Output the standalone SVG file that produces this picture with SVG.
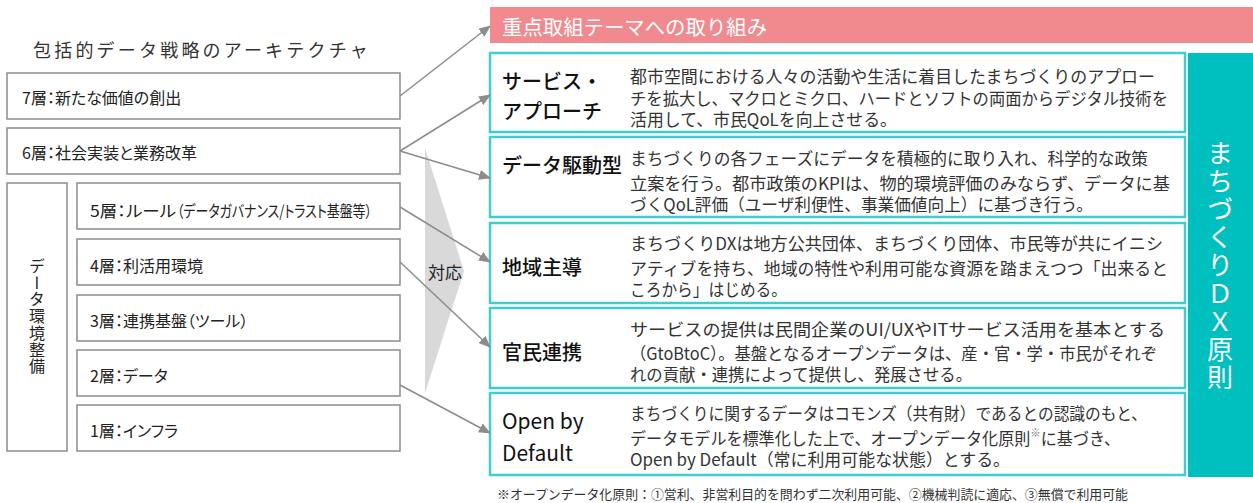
<svg xmlns="http://www.w3.org/2000/svg" width="1253" height="503" viewBox="0 0 1253 503">
<style>
text{font-family:"Noto Sans CJK JP","Noto Sans",sans-serif;dominant-baseline:central;}
.lb{fill:#fff;stroke:#8c8c8c;stroke-width:1.5}
.lt{font-size:16px;fill:#222;font-feature-settings:"palt"}
.tb{fill:#fff;stroke:#3dcfcf;stroke-width:2.5}
.tt{font-size:20px;fill:#111;font-weight:500}
.dt{font-size:17px;fill:#333}
.cn{stroke:#8c8c8c;stroke-width:1.5;fill:none;marker-end:url(#ah)}
</style>
<defs>
<marker id="ah" markerUnits="userSpaceOnUse" markerWidth="12" markerHeight="10" refX="11" refY="5" orient="auto">
<path d="M0,0 L12,5 L0,10 Z" fill="#8c8c8c"/>
</marker>
</defs>
<rect width="1253" height="503" fill="#fff"/>

<g id="title-left">
<text x="33" y="49" style="font-size:18px;letter-spacing:3.2px;fill:#333">包括的データ戦略のアーキテクチャ</text>
</g>

<g id="layer7"><rect class="lb" x="7" y="73" width="393" height="46"/><text class="lt" x="22" y="97">7層：新たな価値の創出</text></g>
<g id="layer6"><rect class="lb" x="7" y="128" width="393" height="46"/><text class="lt" x="22" y="152">6層：社会実装と業務改革</text></g>
<g id="data-env"><rect class="lb" x="7" y="183" width="60" height="268"/><text x="37" y="258" style="font-size:16px;fill:#222;writing-mode:vertical-rl;letter-spacing:0.7px">データ環境整備</text></g>
<g id="layer5"><rect class="lb" x="77" y="183" width="323" height="46"/><text class="lt" x="90" y="210" textLength="86" lengthAdjust="spacingAndGlyphs">5層：ルール</text><text class="lt" x="177" y="210" textLength="195" lengthAdjust="spacingAndGlyphs">（データガバナンス/トラスト基盤等）</text></g>
<g id="layer4"><rect class="lb" x="77" y="239" width="323" height="46"/><text class="lt" x="90" y="265">4層：利活用環境</text></g>
<g id="layer3"><rect class="lb" x="77" y="295" width="323" height="46"/><text class="lt" x="90" y="320">3層：連携基盤（ツール）</text></g>
<g id="layer2"><rect class="lb" x="77" y="350" width="323" height="46"/><text class="lt" x="90" y="375">2層：データ</text></g>
<g id="layer1"><rect class="lb" x="77" y="405" width="323" height="46"/><text class="lt" x="90" y="430">1層：インフラ</text></g>

<g id="correspond">
<polygon points="425,148 425,393 464,271" fill="#d9d9d9"/>
<text x="428" y="271" style="font-size:17px;fill:#222">対応</text>
</g>

<g id="header">
<rect x="490" y="7" width="763" height="36" fill="#f08a8e"/>
<text x="502" y="26" style="font-size:20.4px;fill:#fff">重点取組テーマへの取り組み</text>
</g>

<g id="p1"><rect class="tb" x="490" y="53" width="695" height="79"/>
<text class="tt" x="502" y="80">サービス・</text><text class="tt" x="502" y="110">アプローチ</text>
<text class="dt" x="630" y="75" textLength="525" lengthAdjust="spacingAndGlyphs">都市空間における人々の活動や生活に着目したまちづくりのアプロー</text>
<text class="dt" x="630" y="97" textLength="538" lengthAdjust="spacingAndGlyphs">チを拡大し、マクロとミクロ、ハードとソフトの両面からデジタル技術を</text>
<text class="dt" x="630" y="118" textLength="267" lengthAdjust="spacingAndGlyphs">活用して、市民QoLを向上させる。</text></g>

<g id="p2"><rect class="tb" x="490" y="137" width="695" height="80"/>
<text class="tt" x="502" y="164">データ駆動型</text>
<text class="dt" x="630" y="157" textLength="518" lengthAdjust="spacingAndGlyphs">まちづくりの各フェーズにデータを積極的に取り入れ、科学的な政策</text>
<text class="dt" x="630" y="182" textLength="540" lengthAdjust="spacingAndGlyphs">立案を行う。都市政策のKPIは、物的環境評価のみならず、データに基</text>
<text class="dt" x="630" y="203" textLength="463" lengthAdjust="spacingAndGlyphs">づくQoL評価（ユーザ利便性、事業価値向上）に基づき行う。</text></g>

<g id="p3"><rect class="tb" x="490" y="223" width="695" height="80"/>
<text class="tt" x="502" y="266">地域主導</text>
<text class="dt" x="630" y="242" textLength="533" lengthAdjust="spacingAndGlyphs">まちづくりDXは地方公共団体、まちづくり団体、市民等が共にイニシ</text>
<text class="dt" x="630" y="267" textLength="538" lengthAdjust="spacingAndGlyphs">アティブを持ち、地域の特性や利用可能な資源を踏まえつつ「出来ると</text>
<text class="dt" x="630" y="288" textLength="157" lengthAdjust="spacingAndGlyphs">ころから」はじめる。</text></g>

<g id="p4"><rect class="tb" x="490" y="308" width="695" height="80"/>
<text class="tt" x="502" y="351">官民連携</text>
<text class="dt" x="630" y="328" textLength="535" lengthAdjust="spacingAndGlyphs">サービスの提供は民間企業のUI/UXやITサービス活用を基本とする</text>
<text class="dt" x="630" y="352" textLength="527" lengthAdjust="spacingAndGlyphs">（GtoBtoC）。基盤となるオープンデータは、産・官・学・市民がそれぞ</text>
<text class="dt" x="630" y="373" textLength="342" lengthAdjust="spacingAndGlyphs">れの貢献・連携によって提供し、発展させる。</text></g>

<g id="p5"><rect class="tb" x="490" y="393" width="695" height="82"/>
<text class="tt" x="502" y="420" style="font-size:21px;font-weight:400">Open by</text><text class="tt" x="502" y="452" style="font-size:21px;font-weight:400">Default</text>
<text class="dt" x="630" y="412" textLength="517" lengthAdjust="spacingAndGlyphs">まちづくりに関するデータはコモンズ（共有財）であるとの認識のもと、</text>
<text class="dt" x="630" y="437" textLength="490" lengthAdjust="spacingAndGlyphs">データモデルを標準化した上で、オープンデータ化原則<tspan style="font-size:11px;fill:#777" dy="-5">※</tspan><tspan dy="5">に基づき、</tspan></text>
<text class="dt" x="630" y="458" textLength="380" lengthAdjust="spacingAndGlyphs">Open by Default（常に利用可能な状態）とする。</text>
</g>

<g id="principle">
<rect x="1188" y="53" width="65" height="424" fill="#00bfbf"/>
<text x="1220" y="140" style="font-size:26px;fill:#fff;writing-mode:vertical-rl;letter-spacing:2px">まちづくりＤＸ原則</text>
</g>

<g id="connectors">
<line class="cn" x1="400" y1="96" x2="490" y2="26"/>
<line class="cn" x1="400" y1="151" x2="490" y2="95"/>
<line class="cn" x1="400" y1="151" x2="490" y2="178"/>
<line class="cn" x1="400" y1="207" x2="490" y2="262"/>
<line class="cn" x1="400" y1="262" x2="490" y2="347"/>
<line class="cn" x1="400" y1="385" x2="490" y2="433"/>
</g>

<g id="footnote">
<text x="497" y="493" style="font-size:13px;fill:#333" textLength="631" lengthAdjust="spacingAndGlyphs">※オープンデータ化原則：①営利、非営利目的を問わず二次利用可能、②機械判読に適応、③無償で利用可能</text>
</g>
</svg>
